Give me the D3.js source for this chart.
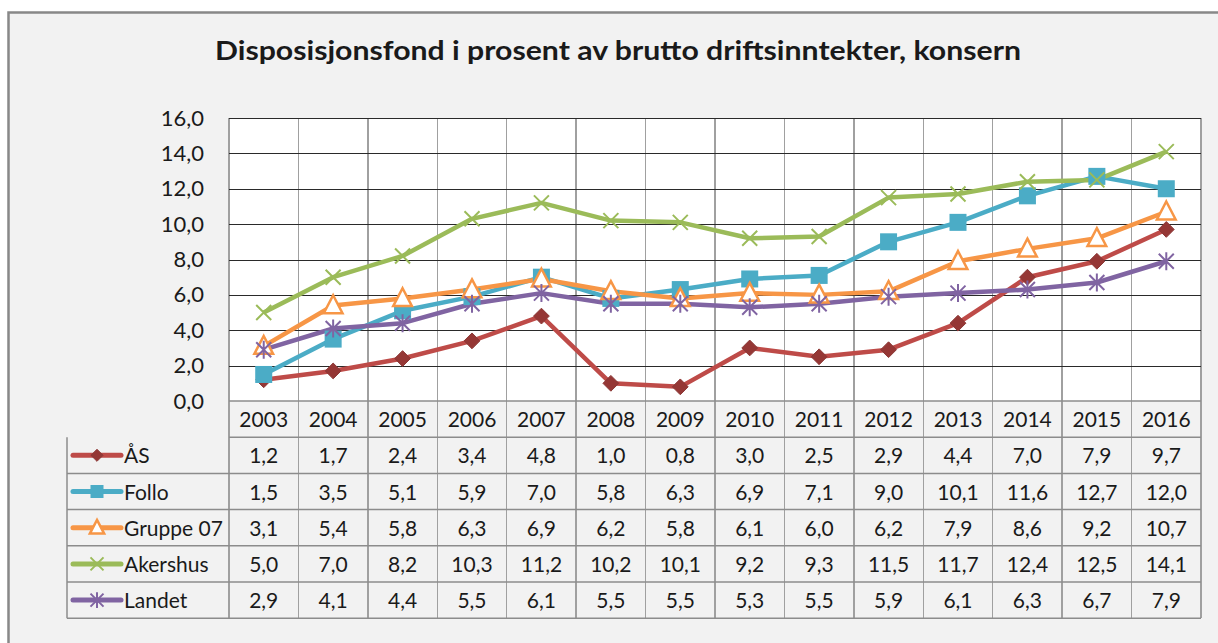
<!DOCTYPE html>
<html>
<head>
<meta charset="utf-8">
<script src="https://cdn.jsdelivr.net/npm/d3@7"></script>
<style>
  html, body { margin: 0; padding: 0; background: #fff; }
  svg { display: block; }
  text { font-family: Lato, "Open Sans", sans-serif; fill: #1a1a1a; }
</style>
</head>
<body>
<div id="chart"></div>
<script>
// data
var years = ["2003","2004","2005","2006","2007","2008","2009","2010","2011","2012","2013","2014","2015","2016"];
var seriesNames = ["ÅS", "Follo", "Gruppe 07", "Akershus", "Landet"];
var valsAS       = [1.2, 1.7, 2.4, 3.4, 4.8, 1.0, 0.8, 3.0, 2.5, 2.9, 4.4, 7.0, 7.9, 9.7];
var valsFollo    = [1.5, 3.5, 5.1, 5.9, 7.0, 5.8, 6.3, 6.9, 7.1, 9.0, 10.1, 11.6, 12.7, 12.0];
var valsGruppe07 = [3.1, 5.4, 5.8, 6.3, 6.9, 6.2, 5.8, 6.1, 6.0, 6.2, 7.9, 8.6, 9.2, 10.7];
var valsAkershus = [5.0, 7.0, 8.2, 10.3, 11.2, 10.2, 10.1, 9.2, 9.3, 11.5, 11.7, 12.4, 12.5, 14.1];
var valsLandet   = [2.9, 4.1, 4.4, 5.5, 6.1, 5.5, 5.5, 5.3, 5.5, 5.9, 6.1, 6.3, 6.7, 7.9];
var yTicks = [0, 2, 4, 6, 8, 10, 12, 14, 16];

var series = [
  {name: seriesNames[0], values: valsAS,       color: "#be4b48", mark: "diamond"},
  {name: seriesNames[1], values: valsFollo,    color: "#4bacc6", mark: "square"},
  {name: seriesNames[2], values: valsGruppe07, color: "#f79646", mark: "triangle"},
  {name: seriesNames[3], values: valsAkershus, color: "#9bbb59", mark: "x"},
  {name: seriesNames[4], values: valsLandet,   color: "#8064a2", mark: "star"}
];

var W = 1218, H = 643;
var plotL = 229, plotR = 1201, plotT = 118, plotB = 401;
var rowH = 36.2, tableL = 67;
var fs = 21;

var fmt = function(v) { return d3.format(".1f")(v).replace(".", ","); };

var svg = d3.select("#chart").append("svg")
  .attr("width", W).attr("height", H);

// frame
svg.append("rect")
  .attr("x", 8.5).attr("y", 12.5)
  .attr("width", W).attr("height", H)
  .attr("fill", "#f2f2f2")
  .attr("stroke", "#888").attr("stroke-width", 2.5);

svg.append("text")
  .attr("x", 618).attr("y", 60)
  .attr("text-anchor", "middle")
  .attr("font-size", 27).attr("font-weight", "bold")
  .attr("textLength", 806).attr("lengthAdjust", "spacingAndGlyphs")
  .attr("fill", "#000")
  .text("Disposisjonsfond i prosent av brutto driftsinntekter, konsern");

var x = d3.scaleBand().domain(years).range([plotL, plotR]);
var y = d3.scaleLinear().domain([0, 16]).range([plotB, plotT]);

svg.append("rect")
  .attr("x", plotL).attr("y", plotT)
  .attr("width", plotR - plotL).attr("height", plotB - plotT)
  .attr("fill", "#fff");

// vertical grid lines run through the table
var tableB = plotB + rowH * (seriesNames.length + 1);
svg.append("g").selectAll("line")
  .data(years.concat(["end"]))
  .enter().append("line")
  .attr("x1", function(d, i) { return plotL + i * x.bandwidth(); })
  .attr("x2", function(d, i) { return plotL + i * x.bandwidth(); })
  .attr("y1", plotT).attr("y2", tableB)
  .attr("stroke", "#a0a0a0").attr("stroke-width", 1.5)
  .attr("shape-rendering", "crispEdges");

// horizontal grid
svg.append("g").selectAll("line")
  .data(yTicks.filter(function(d) { return d > 0; }))
  .enter().append("line")
  .attr("x1", plotL).attr("x2", plotR)
  .attr("y1", function(d) { return Math.round(y(d)) + 0.5; })
  .attr("y2", function(d) { return Math.round(y(d)) + 0.5; })
  .attr("stroke", "#2a2a2a").attr("stroke-width", 1.2);

// y axis labels
var yAxis = d3.axisLeft(y).tickValues(yTicks).tickFormat(fmt).tickSize(0).tickPadding(25);
var gy = svg.append("g").attr("transform", "translate(" + plotL + ",0)").call(yAxis);
gy.select(".domain").remove();
gy.selectAll("text").attr("font-size", 22).attr("font-family", "Lato, sans-serif").attr("fill", "#1a1a1a");

// table horizontal lines
var rows = d3.range(seriesNames.length + 2);
svg.append("g").selectAll("line")
  .data(rows)
  .enter().append("line")
  .attr("x1", function(d) { return d < 2 ? plotL : tableL; })
  .attr("x2", plotR)
  .attr("y1", function(d) { return plotB + d * rowH; })
  .attr("y2", function(d) { return plotB + d * rowH; })
  .attr("stroke", "#8c8c8c").attr("stroke-width", 1.5);
svg.append("line")
  .attr("x1", tableL).attr("x2", tableL)
  .attr("y1", plotB + rowH).attr("y2", tableB)
  .attr("stroke", "#8c8c8c").attr("stroke-width", 1.5);

// year header
svg.append("g").selectAll("text")
  .data(years)
  .enter().append("text")
  .attr("x", function(d) { return x(d) + x.bandwidth() / 2; })
  .attr("y", plotB + rowH / 2 + 8)
  .attr("text-anchor", "middle")
  .attr("font-size", fs)
  .text(function(d) { return d; });

// marker shapes
function drawMarker(g, type, color, s) {
  if (type === "diamond") {
    g.append("path").attr("d", d3.symbol(d3.symbolDiamond2, s * s * 0.55)())
      .attr("fill", "#953735").attr("stroke", "#8c3836").attr("stroke-width", 1);
  } else if (type === "square") {
    g.append("rect").attr("x", -s / 2).attr("y", -s / 2).attr("width", s).attr("height", s)
      .attr("fill", color);
  } else if (type === "triangle") {
    g.append("path").attr("d", "M0," + (-s * 0.6) + "L" + (s * 0.55) + "," + (s * 0.45) + "L" + (-s * 0.55) + "," + (s * 0.45) + "Z")
      .attr("fill", "#fff").attr("stroke", color).attr("stroke-width", 2.5);
  } else if (type === "x") {
    var h = s / 2;
    g.append("path").attr("d", "M" + (-h) + "," + (-h) + "L" + h + "," + h + "M" + (-h) + "," + h + "L" + h + "," + (-h))
      .attr("stroke", color).attr("stroke-width", 2);
  } else if (type === "star") {
    var r = s / 2;
    g.append("path").attr("d", "M" + (-r) + "," + (-r) + "L" + r + "," + r + "M" + (-r) + "," + r + "L" + r + "," + (-r) + "M0," + (-r * 1.2) + "L0," + (r * 1.2))
      .attr("stroke", color).attr("stroke-width", 2);
  }
}
var markSize = {diamond: 17, square: 17, triangle: 17, x: 15, star: 15};

var line = d3.line()
  .x(function(d, i) { return x(years[i]) + x.bandwidth() / 2; })
  .y(function(d) { return y(d); });

series.forEach(function(s) {
  svg.append("path")
    .datum(s.values)
    .attr("d", line)
    .attr("fill", "none")
    .attr("stroke", s.color)
    .attr("stroke-width", 4.5)
    .attr("stroke-linejoin", "round");
});
series.forEach(function(s) {
  s.values.forEach(function(v, i) {
    var g = svg.append("g")
      .attr("transform", "translate(" + (x(years[i]) + x.bandwidth() / 2) + "," + y(v) + ")");
    drawMarker(g, s.mark, s.color, markSize[s.mark]);
  });
});

// table body
series.forEach(function(s, si) {
  var cy = plotB + rowH * (si + 1) + rowH / 2;
  svg.append("line")
    .attr("x1", 73).attr("x2", 121).attr("y1", cy).attr("y2", cy)
    .attr("stroke", s.color).attr("stroke-width", 5).attr("stroke-linecap", "round");
  var g = svg.append("g").attr("transform", "translate(97," + cy + ")");
  drawMarker(g, s.mark, s.color, 13);
  svg.append("text")
    .attr("x", 124).attr("y", cy + 8)
    .attr("font-size", fs)
    .text(s.name);
  svg.append("g").selectAll("text")
    .data(s.values)
    .enter().append("text")
    .attr("x", function(d, i) { return x(years[i]) + x.bandwidth() / 2; })
    .attr("y", cy + 8)
    .attr("text-anchor", "middle")
    .attr("font-size", fs)
    .text(fmt);
});
</script>
</body>
</html>
